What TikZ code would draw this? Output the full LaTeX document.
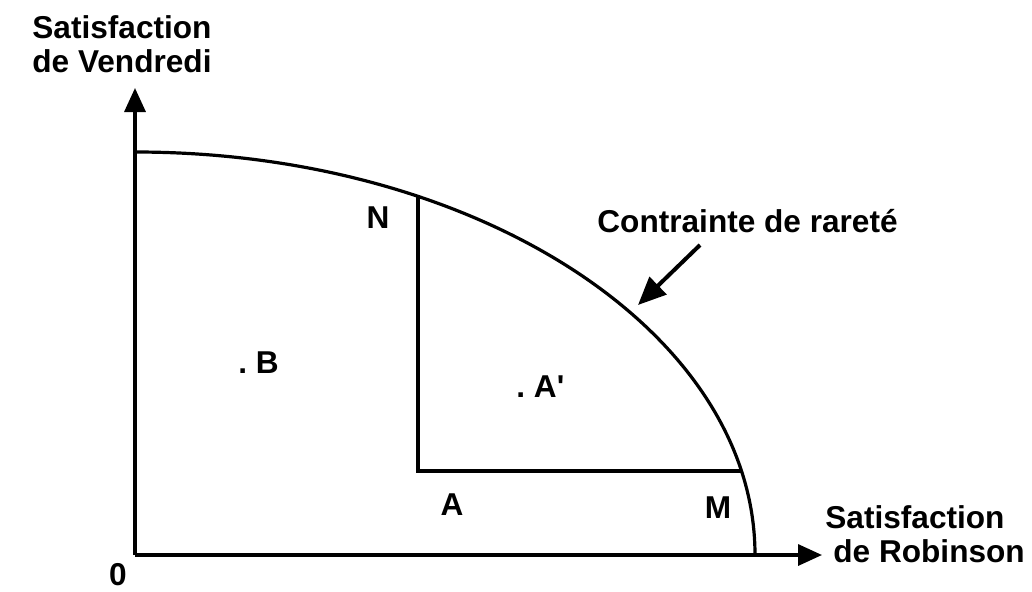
\documentclass[tikz,border=0pt]{standalone}
\usepackage{fontspec}
\setmainfont{Liberation Sans}
\usetikzlibrary{arrows.meta, positioning}

\begin{document}
\begin{tikzpicture}[
	x=0.5pt, y=0.5pt,
	axis/.style={-{Triangle[length=12pt, width=10.5pt]}, line width=1.7pt},
	edge/.style={line width=1.6pt},
	lbl/.style={inner sep=0pt, font=\fontsize{15.8}{17.2}\selectfont\bfseries},
	pointer/.style={-{Triangle[length=14pt, width=12pt]}, line width=2pt}
	]
	\useasboundingbox (0,0) rectangle (1032,591);

	\coordinate (O) at (135,36);
	\coordinate (ytip) at (135,503);
	\coordinate (xtip) at (822,36);
	\coordinate (top) at (135,439);
	\coordinate (N) at (418,395);
	\coordinate (A) at (418,120);
	\coordinate (M) at (741,120);
	\coordinate (from) at (700,346);
	\coordinate (to) at (638,286);

	\draw[axis] (O) -- (ytip);
	\draw[axis] (O) -- (xtip);
	\draw[edge] (top) arc[start angle=90, end angle=0, x radius=620, y radius=403];
	\draw[edge] (N) -- (A) -- (M);

	\node[lbl, anchor=north west, align=left] (ylabel) at (32,576) {Satisfaction\\de Vendredi};
	\node[lbl, anchor=north west, align=left] (xlabel) at (825,86) {Satisfaction\\\hspace*{4pt}de Robinson};
	\node[lbl, anchor=base] (zero) at (118,6) {0};
	\node[lbl, anchor=base] (nlab) at (378,363) {N};
	\node[lbl, anchor=base west] (blab) at (238,218) {.\ B};
	\node[lbl, anchor=base west] (aplab) at (516,194) {.\ A\textquotesingle};
	\node[lbl, anchor=base] (alab) at (452,76) {A};
	\node[lbl, anchor=base] (mlab) at (718,73) {M};
	\node[lbl, anchor=base west] (clab) at (597,359) {Contrainte de raret\'e};

	\draw[pointer] (from) -- (to);
\end{tikzpicture}
\end{document}
